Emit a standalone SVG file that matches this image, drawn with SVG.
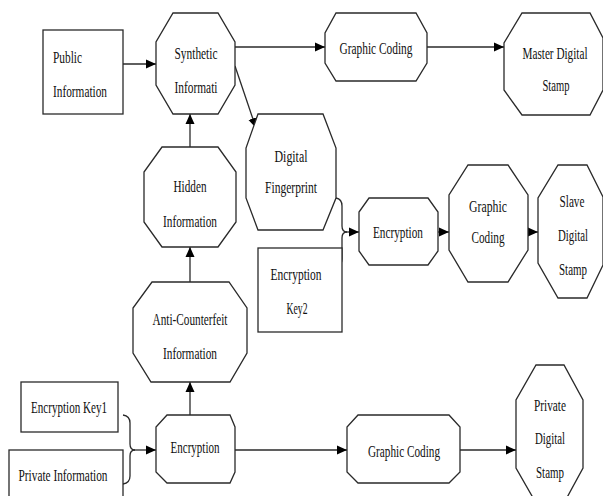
<svg xmlns="http://www.w3.org/2000/svg" width="603" height="496" viewBox="0 0 603 496">
<style>
.n{fill:#fff;stroke:#2a2a2a;stroke-width:1.3}
.c{fill:none;stroke:#2a2a2a;stroke-width:1.3}
text{font-family:"Liberation Serif","Times New Roman",serif;font-size:17.5px;fill:#111}
.m{text-anchor:middle}
</style>
<defs>
<marker id="ah" viewBox="0 0 10 10" refX="10" refY="5" markerWidth="10" markerHeight="10" markerUnits="userSpaceOnUse" orient="auto">
<path d="M0,0.5 L10,5 L0,9.5 Z" fill="#000"/>
</marker>
</defs>
<rect width="603" height="496" fill="#fff"/>
<g id="connectors">
<line class="c" x1="123" y1="64" x2="156" y2="64" marker-end="url(#ah)"/>
<line class="c" x1="235" y1="47" x2="325" y2="47" marker-end="url(#ah)"/>
<line class="c" x1="427" y1="47" x2="504" y2="47" marker-end="url(#ah)"/>
<line class="c" x1="235" y1="66" x2="256" y2="128" marker-end="url(#ah)"/>
<line class="c" x1="190" y1="147" x2="190" y2="114" marker-end="url(#ah)"/>
<line class="c" x1="190" y1="282" x2="190" y2="247" marker-end="url(#ah)"/>
<line class="c" x1="190" y1="415" x2="190" y2="382" marker-end="url(#ah)"/>
<path class="c" d="M336,198 Q342,199 342,206 L342,226 Q342,232 347,232 Q342,232 342,238 L342,259 Q342,266 336,267"/>
<line class="c" x1="346" y1="232" x2="359" y2="232" marker-end="url(#ah)"/>
<line class="c" x1="438" y1="232" x2="449" y2="232" marker-end="url(#ah)"/>
<line class="c" x1="528" y1="232" x2="538" y2="232" marker-end="url(#ah)"/>
<path class="c" d="M123,415 Q130,416 130,423 L130,444 Q130,450 135,450 Q130,450 130,456 L130,476 Q130,483 123,484"/>
<line class="c" x1="134" y1="450" x2="156" y2="450" marker-end="url(#ah)"/>
<line class="c" x1="235" y1="450" x2="347" y2="450" marker-end="url(#ah)"/>
<line class="c" x1="460" y1="450" x2="516" y2="450" marker-end="url(#ah)"/>
</g>
<g id="public-information">
<rect class="n" x="43" y="30" width="80" height="84"/>
<text x="53" y="63" textLength="29" lengthAdjust="spacingAndGlyphs">Public</text>
<text x="53" y="97" textLength="54" lengthAdjust="spacingAndGlyphs">Information</text>
</g>
<g id="synthetic-information">
<polygon class="n" points="173,13 218,13 235,42 235,85 218,114 173,114 156,85 156,42"/>
<text class="m" x="196" y="59" textLength="43" lengthAdjust="spacingAndGlyphs">Synthetic</text>
<text class="m" x="196" y="93" textLength="43" lengthAdjust="spacingAndGlyphs">Informati</text>
</g>
<g id="graphic-coding-top">
<polygon class="n" points="336,13 416,13 427,33 427,63 416,81 336,81 325,63 325,33"/>
<text class="m" x="376" y="54" textLength="73" lengthAdjust="spacingAndGlyphs">Graphic Coding</text>
</g>
<g id="master-digital-stamp">
<polygon class="n" points="522,13 590,13 603,38 603,90 590,115 522,115 504,90 504,43"/>
<text class="m" x="555" y="59" textLength="65" lengthAdjust="spacingAndGlyphs">Master Digital</text>
<text class="m" x="556" y="91" textLength="27" lengthAdjust="spacingAndGlyphs">Stamp</text>
</g>
<g id="digital-fingerprint">
<polygon class="n" points="258,114 323,114 336,148 336,198 323,230 258,230 246,198 246,148"/>
<text class="m" x="291" y="162" textLength="33" lengthAdjust="spacingAndGlyphs">Digital</text>
<text class="m" x="291" y="193" textLength="52" lengthAdjust="spacingAndGlyphs">Fingerprint</text>
</g>
<g id="hidden-information">
<polygon class="n" points="162,147 218,147 236,172 236,222 218,247 162,247 144,222 144,172"/>
<text class="m" x="190" y="192" textLength="33" lengthAdjust="spacingAndGlyphs">Hidden</text>
<text class="m" x="190" y="227" textLength="54" lengthAdjust="spacingAndGlyphs">Information</text>
</g>
<g id="encryption-key2">
<rect class="n" x="258" y="248" width="84" height="84"/>
<text class="m" x="296" y="280" textLength="51" lengthAdjust="spacingAndGlyphs">Encryption</text>
<text class="m" x="297" y="314" textLength="21" lengthAdjust="spacingAndGlyphs">Key2</text>
</g>
<g id="encryption-middle">
<polygon class="n" points="369,198 428,198 438,212 438,251 428,265 369,265 359,251 359,212"/>
<text class="m" x="398" y="238" textLength="50" lengthAdjust="spacingAndGlyphs">Encryption</text>
</g>
<g id="graphic-coding-middle">
<polygon class="n" points="468,165 508,165 528,195 528,250 508,282 468,282 449,250 449,195"/>
<text class="m" x="488" y="212" textLength="38" lengthAdjust="spacingAndGlyphs">Graphic</text>
<text class="m" x="488" y="243" textLength="33" lengthAdjust="spacingAndGlyphs">Coding</text>
</g>
<g id="slave-digital-stamp">
<polygon class="n" points="558,165 587,165 603,197 603,265 587,298 558,298 538,263 538,198"/>
<text class="m" x="572" y="207" textLength="25" lengthAdjust="spacingAndGlyphs">Slave</text>
<text class="m" x="573" y="241" textLength="30" lengthAdjust="spacingAndGlyphs">Digital</text>
<text class="m" x="573" y="275" textLength="28" lengthAdjust="spacingAndGlyphs">Stamp</text>
</g>
<g id="anti-counterfeit-information">
<polygon class="n" points="152,282 229,282 247,308 247,353 230,382 151,382 133,353 133,308"/>
<text class="m" x="190" y="325" textLength="75" lengthAdjust="spacingAndGlyphs">Anti-Counterfeit</text>
<text class="m" x="190" y="359" textLength="54" lengthAdjust="spacingAndGlyphs">Information</text>
</g>
<g id="encryption-key1">
<rect class="n" x="21" y="382" width="97" height="50"/>
<text class="m" x="69" y="413" textLength="76" lengthAdjust="spacingAndGlyphs">Encryption Key1</text>
</g>
<g id="private-information">
<rect class="n" x="9" y="450" width="114" height="52"/>
<text class="m" x="63" y="481" textLength="89" lengthAdjust="spacingAndGlyphs">Private Information</text>
</g>
<g id="encryption-bottom">
<polygon class="n" points="167,415 230,415 235,427 235,472 230,483 167,483 156,472 156,427"/>
<text class="m" x="195" y="453" textLength="49" lengthAdjust="spacingAndGlyphs">Encryption</text>
</g>
<g id="graphic-coding-bottom">
<polygon class="n" points="358,415 449,415 460,427 460,472 449,483 358,483 347,472 347,427"/>
<text class="m" x="404" y="457" textLength="72" lengthAdjust="spacingAndGlyphs">Graphic Coding</text>
</g>
<g id="private-digital-stamp">
<polygon class="n" points="536,365 564,365 583,400 583,468 564,503 536,503 516,468 516,400"/>
<text class="m" x="550" y="411" textLength="32" lengthAdjust="spacingAndGlyphs">Private</text>
<text class="m" x="550" y="444" textLength="30" lengthAdjust="spacingAndGlyphs">Digital</text>
<text class="m" x="550" y="478" textLength="28" lengthAdjust="spacingAndGlyphs">Stamp</text>
</g>
</svg>
